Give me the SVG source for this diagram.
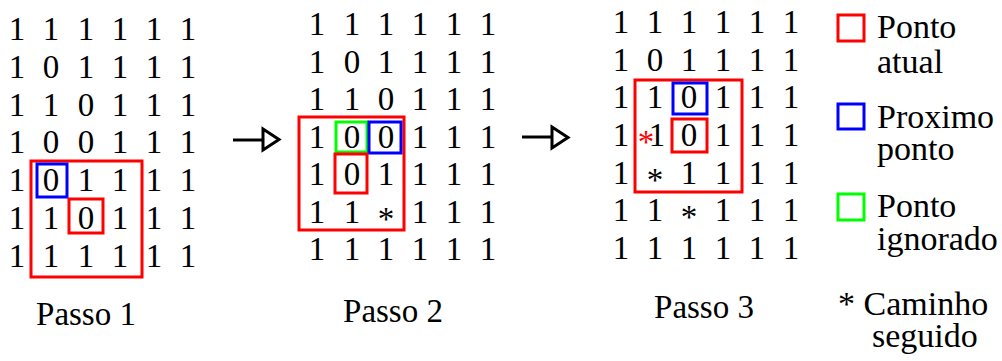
<svg xmlns="http://www.w3.org/2000/svg" width="1002" height="361" viewBox="0 0 1002 361" font-family="'Liberation Serif', 'DejaVu Serif', serif">
  <style>
    text { font-family: "Liberation Serif", "DejaVu Serif", serif; fill: #000; }
    .d { font-size: 33px; text-anchor: middle; }
    .st { font-size: 33px; }
    .red { fill: #ff0000; }
    .lbl { font-size: 33px; text-anchor: middle; }
    .lg { font-size: 34px; }
    .cur { fill: none; stroke: #ff0000; stroke-width: 3; }
    .nxt { fill: none; stroke: #0000ff; stroke-width: 3; }
    .ign { fill: none; stroke: #00ff00; stroke-width: 3; }
    .arr { fill: none; stroke: #000; stroke-width: 3; }
    .head { fill: #fff; stroke: #000; stroke-width: 3; stroke-linejoin: miter; }
  </style>
  <rect width="1002" height="361" fill="#fff"/>

  <!-- Step 1 grid -->
  <g id="passo1">
    <text class="d" x="17 51 86 120 154 188" y="40">111111</text>
    <text class="d" x="17 51 86 120 154 188" y="78">101111</text>
    <text class="d" x="17 51 86 120 154 188" y="116">110111</text>
    <text class="d" x="17 51 86 120 154 188" y="153">100111</text>
    <text class="d" x="17 51 86 120 154 188" y="191">101111</text>
    <text class="d" x="17 51 86 120 154 188" y="229">110111</text>
    <text class="d" x="17 51 86 120 154 188" y="267">111111</text>
    <rect class="cur" x="31" y="161" width="111" height="116"/>
    <rect class="nxt" x="37" y="164" width="30" height="33"/>
    <rect class="cur" x="69" y="199" width="34" height="34"/>
    <text class="lbl" x="86" y="325">Passo 1</text>
  </g>

  <!-- Step 2 grid -->
  <g id="passo2">
    <text class="d" x="317 352 386 420 454 488" y="35">111111</text>
    <text class="d" x="317 352 386 420 454 488" y="73">101111</text>
    <text class="d" x="317 352 386 420 454 488" y="110">110111</text>
    <text class="d" x="317 352 386 420 454 488" y="148">100111</text>
    <text class="d" x="317 352 386 420 454 488" y="185">101111</text>
    <text class="d" y="223"><tspan x="317 352">11</tspan><tspan class="st" x="386" dy="7">*</tspan><tspan x="420 454 488" dy="-7">111</tspan></text>
    <text class="d" x="317 352 386 420 454 488" y="260">111111</text>
    <rect class="cur" x="299" y="117" width="105" height="113"/>
    <rect class="ign" x="336" y="122" width="31" height="30"/>
    <rect class="nxt" x="369" y="122" width="32" height="31"/>
    <rect class="cur" x="335" y="154" width="32" height="39"/>
    <text class="lbl" x="393" y="322">Passo 2</text>
  </g>

  <!-- Step 3 grid -->
  <g id="passo3">
    <text class="d" x="621 655 689 723 757 791" y="33">111111</text>
    <text class="d" x="621 655 689 723 757 791" y="71">101111</text>
    <text class="d" x="621 655 689 723 757 791" y="108">110111</text>
    <text class="d" y="146"><tspan x="621">1</tspan><tspan class="st red" x="646" dy="7">*</tspan><tspan x="657 689 723 757 791" dy="-7">10111</tspan></text>
    <text class="d" y="184"><tspan x="621">1</tspan><tspan class="st" x="655" dy="7">*</tspan><tspan x="689 723 757 791" dy="-7">1111</tspan></text>
    <text class="d" y="221"><tspan x="621 655">11</tspan><tspan class="st" x="689" dy="7">*</tspan><tspan x="723 757 791" dy="-7">111</tspan></text>
    <text class="d" x="621 655 689 723 757 791" y="259">111111</text>
    <rect class="cur" x="635" y="80" width="107" height="112"/>
    <rect class="nxt" x="673" y="83" width="34" height="31"/>
    <rect class="cur" x="672" y="119" width="35" height="33"/>
    <text class="lbl" x="704" y="318">Passo 3</text>
  </g>

  <!-- Step transitions -->
  <g id="connectors">
    <g id="seta1">
      <line class="arr" x1="233" y1="140" x2="263" y2="140"/>
      <polygon class="head" points="263,129 279,139.5 263,150"/>
    </g>
    <g id="seta2">
      <line class="arr" x1="522" y1="137" x2="552" y2="137"/>
      <polygon class="head" points="552,127 568,137.5 552,148"/>
    </g>
  </g>

  <!-- Legend -->
  <g id="legenda-atual">
    <rect class="cur" x="838" y="15" width="26" height="26"/>
    <text class="lg" x="877" y="38">Ponto</text>
    <text class="lg" x="877" y="73">atual</text>
  </g>
  <g id="legenda-proximo">
    <rect class="nxt" x="838" y="104" width="26" height="25"/>
    <text class="lg" x="877" y="128">Proximo</text>
    <text class="lg" x="877" y="160">ponto</text>
  </g>
  <g id="legenda-ignorado">
    <rect class="ign" x="838" y="194" width="26" height="26"/>
    <text class="lg" x="877" y="217">Ponto</text>
    <text class="lg" x="877" y="250">ignorado</text>
  </g>
  <g id="legenda-caminho">
    <text class="lg" x="838" y="315">* Caminho</text>
    <text class="lg" x="872" y="347">seguido</text>
  </g>
</svg>
